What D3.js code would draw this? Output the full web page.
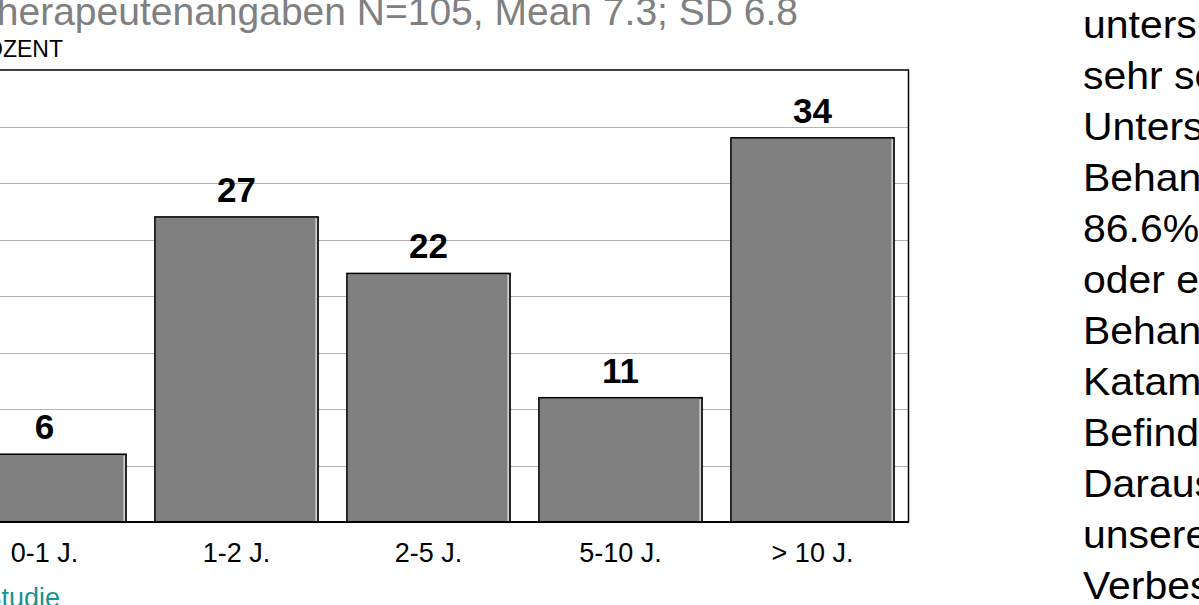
<!DOCTYPE html>
<html>
<head>
<meta charset="utf-8">
<script src="https://cdn.jsdelivr.net/npm/d3@7"></script>
<style>
  html, body { margin: 0; padding: 0; background: #fff; overflow: hidden; }
  svg { display: block; font-family: Arial, "Liberation Sans", sans-serif; }
</style>
</head>
<body>
<div id="chart"></div>
<script>
// Daten
const categories = ["0-1 J.", "1-2 J.", "2-5 J.", "5-10 J.", "> 10 J."];
const values = [6, 27, 22, 11, 34];
const gridTicks = [5, 10, 15, 20, 25, 30, 35];
const titleText = "Therapeutenangaben N=105, Mean 7.3; SD 6.8";
const yLabel = "PROZENT";
const sourceText = "Studie";
const sideLines = ["untersuchten", "sehr schwer", "Untersuchung", "Behandlung", "86.6%", "oder eine", "Behandlung", "Katamnese", "Befinden", "Daraus", "unsere", "Verbesserung"];

const width = 1199, height = 605;
const svg = d3.select("#chart").append("svg")
    .attr("width", width)
    .attr("height", height);

// Plotbereich (links abgeschnitten wie im Original)
const plotLeft = -51.5, plotRight = 908.5, plotTop = 70, plotBottom = 522;

const x = d3.scaleBand()
    .domain(categories)
    .range([plotLeft, plotRight])
    .paddingInner(0.15)
    .paddingOuter(0.075);

const y = d3.scaleLinear()
    .domain([0, 40])
    .range([plotBottom, plotTop]);

// Gitterlinien (gepunktet)
svg.append("g")
  .selectAll("line")
  .data(gridTicks)
  .enter().append("line")
    .attr("x1", plotLeft)
    .attr("x2", plotRight)
    .attr("y1", d => Math.round(y(d)) + 0.5)
    .attr("y2", d => Math.round(y(d)) + 0.5)
    .attr("stroke", "#666")
    .attr("stroke-width", 1)
    .attr("stroke-dasharray", "1,1");

// Balken
const bars = svg.append("g")
  .selectAll("g")
  .data(values)
  .enter().append("g");

bars.append("rect")
    .attr("x", (d, i) => x(categories[i]))
    .attr("y", d => y(d))
    .attr("width", x.bandwidth())
    .attr("height", d => plotBottom - y(d))
    .attr("fill", "#808080")
    .attr("stroke", "#000")
    .attr("stroke-width", 1.5);

bars.append("line")
    .attr("x1", (d, i) => x(categories[i]) + x.bandwidth() - 2)
    .attr("x2", (d, i) => x(categories[i]) + x.bandwidth() - 2)
    .attr("y1", d => y(d) + 1.5)
    .attr("y2", plotBottom - 1)
    .attr("stroke", "#fff")
    .attr("stroke-width", 1);

// Rahmen
svg.append("rect")
    .attr("x", plotLeft)
    .attr("y", plotTop)
    .attr("width", plotRight - plotLeft)
    .attr("height", plotBottom - plotTop)
    .attr("fill", "none")
    .attr("stroke", "#000")
    .attr("stroke-width", 1.5);

svg.append("line")
    .attr("x1", plotLeft).attr("x2", plotRight)
    .attr("y1", plotBottom).attr("y2", plotBottom)
    .attr("stroke", "#000")
    .attr("stroke-width", 2);

// Werte ueber den Balken
svg.append("g")
  .selectAll("text")
  .data(values)
  .enter().append("text")
    .attr("x", (d, i) => x(categories[i]) + x.bandwidth() / 2)
    .attr("y", d => y(d) - 15)
    .attr("text-anchor", "middle")
    .attr("font-size", 35)
    .attr("font-weight", "bold")
    .attr("fill", "#000")
    .text(d => d);

// Kategorien
svg.append("g")
  .selectAll("text")
  .data(categories)
  .enter().append("text")
    .attr("x", d => x(d) + x.bandwidth() / 2)
    .attr("y", 562)
    .attr("text-anchor", "middle")
    .attr("font-size", 27)
    .attr("fill", "#000")
    .text(d => d);

// Titel und Achsenbeschriftung
svg.append("text")
    .attr("x", 798)
    .attr("y", 25)
    .attr("text-anchor", "end")
    .attr("font-size", 39)
    .attr("fill", "#808080")
    .text(titleText);

svg.append("text")
    .attr("x", 63)
    .attr("y", 57)
    .attr("text-anchor", "end")
    .attr("font-size", 23)
    .attr("fill", "#000")
    .text(yLabel);

svg.append("text")
    .attr("x", 9 - 0.945 * 27)
    .attr("y", 607)
    .attr("font-size", 27)
    .attr("fill", "#179494")
    .text(sourceText);

// Fliesstext rechts (leicht breit gezogen wie auf der Folie)
svg.append("g")
    .attr("transform", "translate(1083,0) scale(1.05,1)")
  .selectAll("text")
  .data(sideLines)
  .enter().append("text")
    .attr("x", 0)
    .attr("y", (d, i) => 38 + i * 51)
    .attr("font-size", 39)
    .attr("fill", "#000")
    .text(d => d);
</script>
</body>
</html>
